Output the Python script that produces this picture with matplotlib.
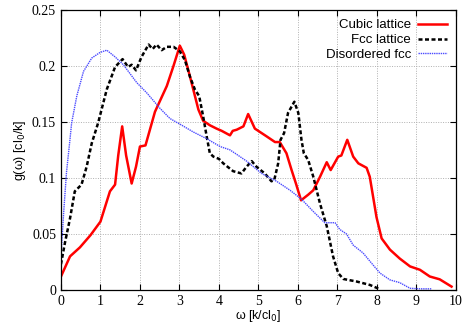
import matplotlib
matplotlib.use("Agg")
import matplotlib.pyplot as plt

# values
w_cubic = [0, 0.23, 0.48, 0.75, 1.0, 1.24, 1.37, 1.45, 1.55, 1.65,
           1.79, 1.9, 2.0, 2.14, 2.38, 2.68, 2.85, 3.01, 3.12, 3.27,
           3.48, 3.6, 3.77, 3.94, 4.07, 4.28, 4.35, 4.45, 4.62, 4.74,
           4.91, 5.21, 5.42, 5.54, 5.71, 5.84, 5.95, 6.08, 6.26, 6.39,
           6.56, 6.73, 6.83, 7.02, 7.1, 7.25, 7.40, 7.53, 7.74, 7.82,
           7.99, 8.12, 8.33, 8.58, 8.84, 9.09, 9.34, 9.59, 9.89]
g_cubic = [0.012, 0.030, 0.038, 0.049, 0.061, 0.088, 0.094, 0.12, 0.146, 0.12,
           0.095, 0.11, 0.128, 0.129, 0.159, 0.182, 0.20, 0.218, 0.21, 0.19,
           0.161, 0.151, 0.147, 0.144, 0.142, 0.138, 0.142, 0.143, 0.146, 0.157,
           0.144, 0.137, 0.132, 0.132, 0.122, 0.107, 0.095, 0.080, 0.085, 0.089,
           0.101, 0.114, 0.107, 0.119, 0.12, 0.134, 0.119, 0.113, 0.109, 0.101,
           0.065, 0.046, 0.036, 0.028, 0.021, 0.018, 0.012, 0.0095, 0.003]

w_fcc = [0, 0.1, 0.23, 0.35, 0.52, 0.65, 0.78, 0.94, 1.16, 1.37,
         1.56, 1.70, 1.79, 1.90, 2.04, 2.17, 2.22, 2.32, 2.42, 2.55,
         2.68, 2.85, 3.01, 3.14, 3.27, 3.39, 3.5, 3.6, 3.69, 3.77,
         3.86, 4.0, 4.11, 4.36, 4.57, 4.70, 4.83, 4.95, 5.16, 5.33,
         5.40, 5.50, 5.56, 5.65, 5.75, 5.91, 6.01, 6.09, 6.15, 6.26,
         6.39, 6.56, 6.73, 6.89, 7.02, 7.15, 7.49, 7.82, 8.08]
g_fcc = [0.023, 0.042, 0.064, 0.088, 0.094, 0.110, 0.131, 0.149, 0.179, 0.199,
         0.206, 0.199, 0.201, 0.196, 0.208, 0.216, 0.219, 0.215, 0.219, 0.214,
         0.217, 0.217, 0.213, 0.205, 0.190, 0.179, 0.173, 0.155, 0.137, 0.122,
         0.119, 0.117, 0.113, 0.106, 0.104, 0.110, 0.115, 0.110, 0.104, 0.097,
         0.098, 0.113, 0.134, 0.140, 0.158, 0.168, 0.158, 0.134, 0.122, 0.116,
         0.101, 0.077, 0.057, 0.030, 0.015, 0.0098, 0.0075, 0.0045, 0.0006]

w_dis = [0, 0.07, 0.14, 0.23, 0.27, 0.4, 0.57, 0.78, 0.99, 1.16,
         1.37, 1.58, 1.92, 2.17, 2.51, 2.76, 3.06, 3.35, 3.69, 4.03,
         4.28, 4.45, 4.70, 5.08, 5.46, 5.8, 6.09, 6.39, 6.68, 6.94,
         7.06, 7.23, 7.4, 7.65, 7.91, 8.08, 8.33, 8.58, 8.84, 9.1, 9.38]
g_dis = [0.03, 0.07, 0.105, 0.135, 0.149, 0.173, 0.195, 0.207, 0.212, 0.214,
         0.208, 0.201, 0.185, 0.176, 0.162, 0.153, 0.147, 0.141, 0.135, 0.128,
         0.125, 0.121, 0.115, 0.104, 0.097, 0.089, 0.081, 0.070, 0.060, 0.060,
         0.054, 0.050, 0.040, 0.033, 0.022, 0.015, 0.009, 0.0065, 0.0015, 0.001, 0.001]

xticks = [0, 1, 2, 3, 4, 5, 6, 7, 8, 9, 10]
yticks = [0, 0.05, 0.1, 0.15, 0.2, 0.25]
ytick_labels = ["0", "0.05", "0.1", "0.15", "0.2", "0.25"]

fig = plt.figure(figsize=(4.69, 3.28), dpi=100)
ax = fig.add_axes([0.130, 0.116, 0.842, 0.854])

ax.plot(w_cubic, g_cubic, color="red", lw=1.8, label="Cubic lattice")
ax.plot(w_fcc, g_fcc, color="black", lw=1.8, linestyle=(0, (1.6, 1.0)), label="Fcc lattice")
ax.plot(w_dis, g_dis, color="#4b4bff", lw=1.0, linestyle=(0, (1, 0.6)), label="Disordered fcc")

ax.set_xlim(0, 10)
ax.set_ylim(0, 0.25)
ax.set_xticks(xticks)
ax.set_yticks(yticks)
ax.set_yticklabels(ytick_labels)
for lab in ax.get_xticklabels() + ax.get_yticklabels():
    lab.set_family("Liberation Serif")
    lab.set_fontsize(10)

ax.tick_params(direction="in", top=True, right=True, length=4, width=0.8)
ax.grid(True, color="#b0b0b0", linestyle=(0, (1, 1.5)), lw=0.7)
for sp in ax.spines.values():
    sp.set_linewidth(0.9)

ax.set_xlabel("ω [k/cl$_0$]", family="Liberation Sans", fontsize=9, labelpad=0)
ax.set_ylabel("g(ω) [cl$_0$/k]", family="Liberation Sans", fontsize=9, labelpad=3)

leg = ax.legend(loc="upper right", frameon=False, markerfirst=False,
                prop={"family": "Liberation Sans", "size": 9.5},
                handlelength=2.2, labelspacing=0.2, borderaxespad=0.3,
                handletextpad=0.5)

fig.savefig("out.png", dpi=100)
